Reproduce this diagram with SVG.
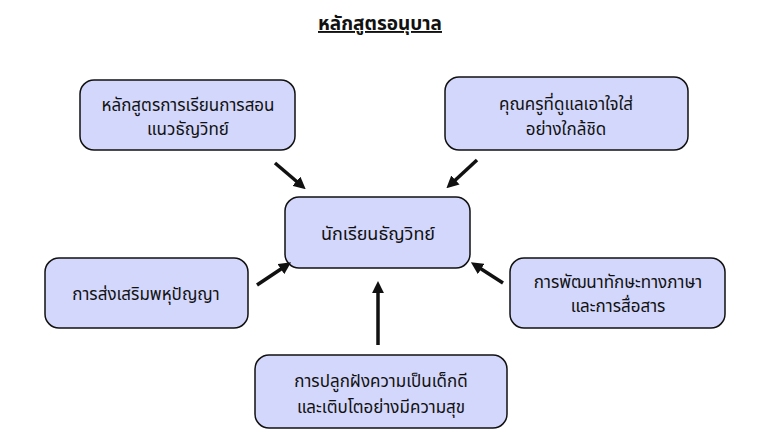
<svg xmlns="http://www.w3.org/2000/svg" width="768" height="441" viewBox="0 0 768 441">
<style>
.b{fill:#d3d7fb;stroke:#111;stroke-width:1.5}
text{font-family:"Noto Sans Thai","Noto Sans","DejaVu Sans",sans-serif;font-size:17px;fill:#111;text-anchor:middle}
.c line{stroke:#111;stroke-width:3.5;marker-end:url(#a)}
</style>
<defs><marker id="a" viewBox="0 0 10 10" refX="6" refY="5" markerWidth="3.5" markerHeight="3.5" orient="auto"><path d="M0,0L10,5L0,10z" fill="#111"/></marker></defs>
<rect width="768" height="441" fill="#fff"/>
<text x="380" y="30" style="font-size:19px;font-weight:bold;text-decoration:underline">หลักสูตรอนุบาล</text>
<g id="n1"><rect class="b" x="80" y="80" width="215" height="70" rx="14"/><text x="188" y="111">หลักสูตรการเรียนการสอน</text><text x="188" y="135">แนวธัญวิทย์</text></g>
<g id="n2"><rect class="b" x="445" y="77" width="243" height="73" rx="14"/><text x="566" y="110">คุณครูที่ดูแลเอาใจใส่</text><text x="566" y="135">อย่างใกล้ชิด</text></g>
<g id="n3"><rect class="b" x="285" y="197" width="185" height="71" rx="14"/><text x="378" y="240" style="font-size:18px">นักเรียนธัญวิทย์</text></g>
<g id="n4"><rect class="b" x="45" y="258" width="203" height="70" rx="14"/><text x="146" y="300">การส่งเสริมพหุปัญญา</text></g>
<g id="n5"><rect class="b" x="510" y="258" width="215" height="70" rx="14"/><text x="618" y="288">การพัฒนาทักษะทางภาษา</text><text x="618" y="312">และการสื่อสาร</text></g>
<g id="n6"><rect class="b" x="255" y="355" width="252" height="73" rx="14"/><text x="381" y="387">การปลูกฝังความเป็นเด็กดี</text><text x="381" y="413">และเติบโตอย่างมีความสุข</text></g>
<g class="c">
<line x1="275" y1="163" x2="302" y2="186"/>
<line x1="477" y1="160" x2="450" y2="185"/>
<line x1="257" y1="285" x2="287" y2="265"/>
<line x1="503" y1="283" x2="475" y2="265"/>
<line x1="378" y1="345" x2="378" y2="286"/>
</g>
</svg>
